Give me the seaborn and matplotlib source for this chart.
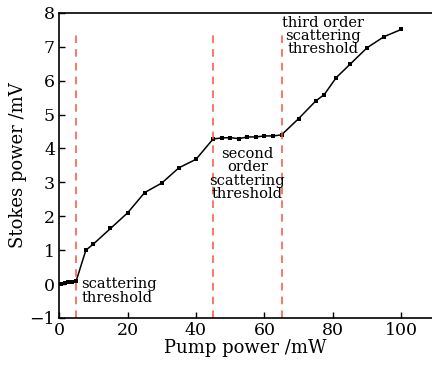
import matplotlib
matplotlib.use("Agg")
import matplotlib.pyplot as plt
import numpy as np
import pandas as pd
import seaborn as sns

# measured points
pump_mw = [0.5, 1.7, 2.7, 3.8, 5.0, 7.8, 10, 15, 20, 25, 30, 35, 40, 45,
           47.5, 50, 52.5, 55, 57.5, 60, 62.5, 65, 70, 75, 77.5, 81, 85,
           90, 95, 100]
stokes_mv = [0.0, 0.03, 0.05, 0.07, 0.1, 1.0, 1.18, 1.64, 2.1, 2.7, 2.98,
             3.43, 3.68, 4.28, 4.31, 4.32, 4.29, 4.34, 4.34, 4.37, 4.37,
             4.4, 4.88, 5.4, 5.59, 6.09, 6.48, 6.97, 7.3, 7.51]

thresholds = [5, 45, 65]
threshold_labels = ["scattering\nthreshold",
                    "second\norder\nscattering\nthreshold",
                    "third order\nscattering\nthreshold"]

df = pd.DataFrame({"pump": pump_mw, "stokes": stokes_mv})

sns.set_style("ticks")
plt.rcParams["font.family"] = ["DejaVu Serif"]
plt.rcParams["xtick.direction"] = "in"
plt.rcParams["ytick.direction"] = "in"
plt.rcParams["text.color"] = "black"
plt.rcParams["axes.labelcolor"] = "black"
plt.rcParams["xtick.color"] = "black"
plt.rcParams["ytick.color"] = "black"
plt.rcParams["axes.edgecolor"] = "black"

fig = plt.figure(figsize=(4.32, 3.68), dpi=100)
ax = fig.add_axes([0.137, 0.136, 0.863, 0.829])

sns.lineplot(data=df, x="pump", y="stokes", ax=ax, color="black",
             linewidth=1.1, marker="s", markersize=3.5, markeredgewidth=0)

for t in thresholds:
    ax.plot([t, t], [-1, 7.45], color="#f5553d", linestyle=(0, (5, 4)),
            linewidth=1.1)

ax.text(6.4, 0.2, threshold_labels[0], ha="left", va="top", fontsize=10.5,
        linespacing=0.95)
ax.text(55, 4.05, threshold_labels[1], ha="center", va="top", fontsize=10.5,
        linespacing=0.95)
ax.text(77, 7.92, threshold_labels[2], ha="center", va="top", fontsize=10.5,
        linespacing=0.95)

ax.set_xlim(0, 109)
ax.set_ylim(-1, 8)
ax.set_xticks([0, 20, 40, 60, 80, 100])
ax.set_yticks(np.arange(-1, 9, 1))
ax.set_yticklabels(["\u22121"] + [str(v) for v in range(0, 9)])
ax.tick_params(labelsize=12.5, length=4, width=1, pad=3)
ax.set_xlabel("Pump power /mW", fontsize=13, labelpad=0)
ax.set_ylabel("Stokes power /mV", fontsize=13, labelpad=2)

ax.spines["right"].set_visible(False)
for s in ["left", "bottom", "top"]:
    ax.spines[s].set_linewidth(1.2)

fig.savefig("out.png", dpi=100)
